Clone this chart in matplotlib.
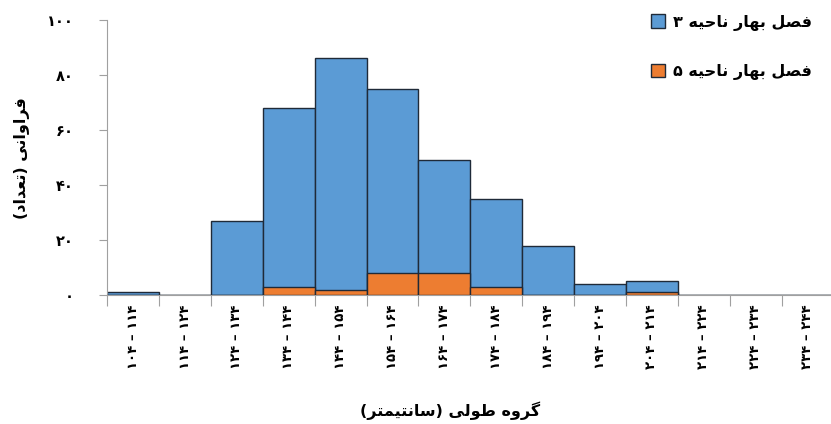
import re
import matplotlib
matplotlib.use("Agg")
import matplotlib.pyplot as plt
import numpy as np

# length classes (cm), Persian digits, bottom-to-top reading
bins = ['۱۰۴ – ۱۱۴', '۱۱۴ – ۱۲۴', '۱۲۴ – ۱۳۴', '۱۳۴ – ۱۴۴', '۱۴۴ – ۱۵۴',
        '۱۵۴ – ۱۶۴', '۱۶۴ – ۱۷۴', '۱۷۴ – ۱۸۴', '۱۸۴ – ۱۹۴', '۱۹۴ – ۲۰۴',
        '۲۰۴ – ۲۱۴', '۲۱۴ – ۲۲۴', '۲۲۴ – ۲۳۴', '۲۳۴ – ۲۴۴']
region3 = [1, 0, 27, 68, 86, 75, 49, 35, 18, 4, 5, 0, 0, 0]
region5 = [0, 0, 0, 3, 2, 8, 8, 3, 0, 0, 1, 0, 0, 0]
yticks = [0, 20, 40, 60, 80, 100]
ytick_labels = ['۰', '۲۰', '۴۰', '۶۰', '۸۰', '۱۰۰']

label3 = 'فصل بهار ناحیه ۳'
label5 = 'فصل بهار ناحیه ۵'
xtitle = 'گروه طولی (سانتیمتر)'
ytitle = 'فراوانی (تعداد)'

# matplotlib has no arabic shaping, so do it by hand:
# letter -> (isolated, final, initial, medial)
FORMS = {
    'ا': ('\uFE8D', '\uFE8E', None, None),
    'ب': ('\uFE8F', '\uFE90', '\uFE91', '\uFE92'),
    'ت': ('\uFE95', '\uFE96', '\uFE97', '\uFE98'),
    'ح': ('\uFEA1', '\uFEA2', '\uFEA3', '\uFEA4'),
    'د': ('\uFEA9', '\uFEAA', None, None),
    'ر': ('\uFEAD', '\uFEAE', None, None),
    'س': ('\uFEB1', '\uFEB2', '\uFEB3', '\uFEB4'),
    'ص': ('\uFEB9', '\uFEBA', '\uFEBB', '\uFEBC'),
    'ط': ('\uFEC1', '\uFEC2', '\uFEC3', '\uFEC4'),
    'ع': ('\uFEC9', '\uFECA', '\uFECB', '\uFECC'),
    'ف': ('\uFED1', '\uFED2', '\uFED3', '\uFED4'),
    'ل': ('\uFEDD', '\uFEDE', '\uFEDF', '\uFEE0'),
    'م': ('\uFEE1', '\uFEE2', '\uFEE3', '\uFEE4'),
    'ن': ('\uFEE5', '\uFEE6', '\uFEE7', '\uFEE8'),
    'ه': ('\uFEE9', '\uFEEA', '\uFEEB', '\uFEEC'),
    'و': ('\uFEED', '\uFEEE', None, None),
    'ی': ('\uFBFC', '\uFBFD', '\uFBFE', '\uFBFF'),
    'گ': ('\uFB92', '\uFB93', '\uFB94', '\uFB95'),
}


def dual(c):
    return c in FORMS and FORMS[c][2] is not None


def rtl(s):
    out = []
    for i, c in enumerate(s):
        if c not in FORMS:
            out.append(c)
            continue
        prev = s[i - 1] if i > 0 else ''
        nxt = s[i + 1] if i + 1 < len(s) else ''
        p = dual(prev)
        n = dual(c) and nxt in FORMS
        iso, fin, ini, med = FORMS[c]
        if p and n:
            out.append(med)
        elif p:
            out.append(fin)
        elif n:
            out.append(ini)
        else:
            out.append(iso)
    shaped = ''.join(out)
    tokens = re.findall(r'[0-9\u06F0-\u06F9]+|.', shaped)[::-1]
    mirror = {'(': ')', ')': '('}
    return ''.join(mirror.get(t, t) for t in tokens)


plt.rcParams['font.family'] = 'DejaVu Sans'
plt.rcParams['font.weight'] = 'bold'

fig = plt.figure(figsize=(8.31, 4.24), dpi=100)
ax = fig.add_axes([0.129, 0.304, 0.874, 0.649])

x = np.arange(len(bins))
ax.bar(x, region3, width=1.0, color='#5B9BD5', edgecolor='#1f2a38',
       linewidth=1.0, label=rtl(label3), zorder=2)
ax.bar(x, region5, width=1.0, color='#ED7D31', edgecolor='#1f2a38',
       linewidth=1.0, label=rtl(label5), zorder=3)

ax.set_xlim(-0.5, len(bins) - 0.5)
ax.set_ylim(0, 100)
ax.set_yticks(yticks)
ax.set_yticklabels(ytick_labels, fontsize=10.5, fontweight='bold')
ax.set_xticks(x)
ax.set_xticklabels(bins, rotation=90, fontsize=9.5, fontweight='bold')
ax.set_xticks(np.arange(len(bins) + 1) - 0.5, minor=True)
ax.tick_params(axis='x', which='major', length=0, pad=7)
ax.tick_params(axis='x', which='minor', length=8, color='#a0a0a0', width=0.8)
ax.tick_params(axis='y', length=6, color='#a0a0a0', width=0.8, pad=18)

for side in ['top', 'right']:
    ax.spines[side].set_visible(False)
for side in ['left', 'bottom']:
    ax.spines[side].set_color('#a0a0a0')
    ax.spines[side].set_linewidth(0.8)

fig.text(0.541, 0.032, rtl(xtitle), ha='center', va='center',
         fontsize=11.5, fontweight='bold')
fig.text(0.027, 0.628, rtl(ytitle), ha='center', va='center',
         rotation=90, fontsize=11.5, fontweight='bold')

leg = ax.legend(loc='upper right', bbox_to_anchor=(0.995, 1.0),
                bbox_transform=fig.transFigure, frameon=False,
                fontsize=11.5, labelspacing=2.1, handlelength=0.9,
                handleheight=0.9, handletextpad=0.5)

fig.savefig('out.png', dpi=100)
